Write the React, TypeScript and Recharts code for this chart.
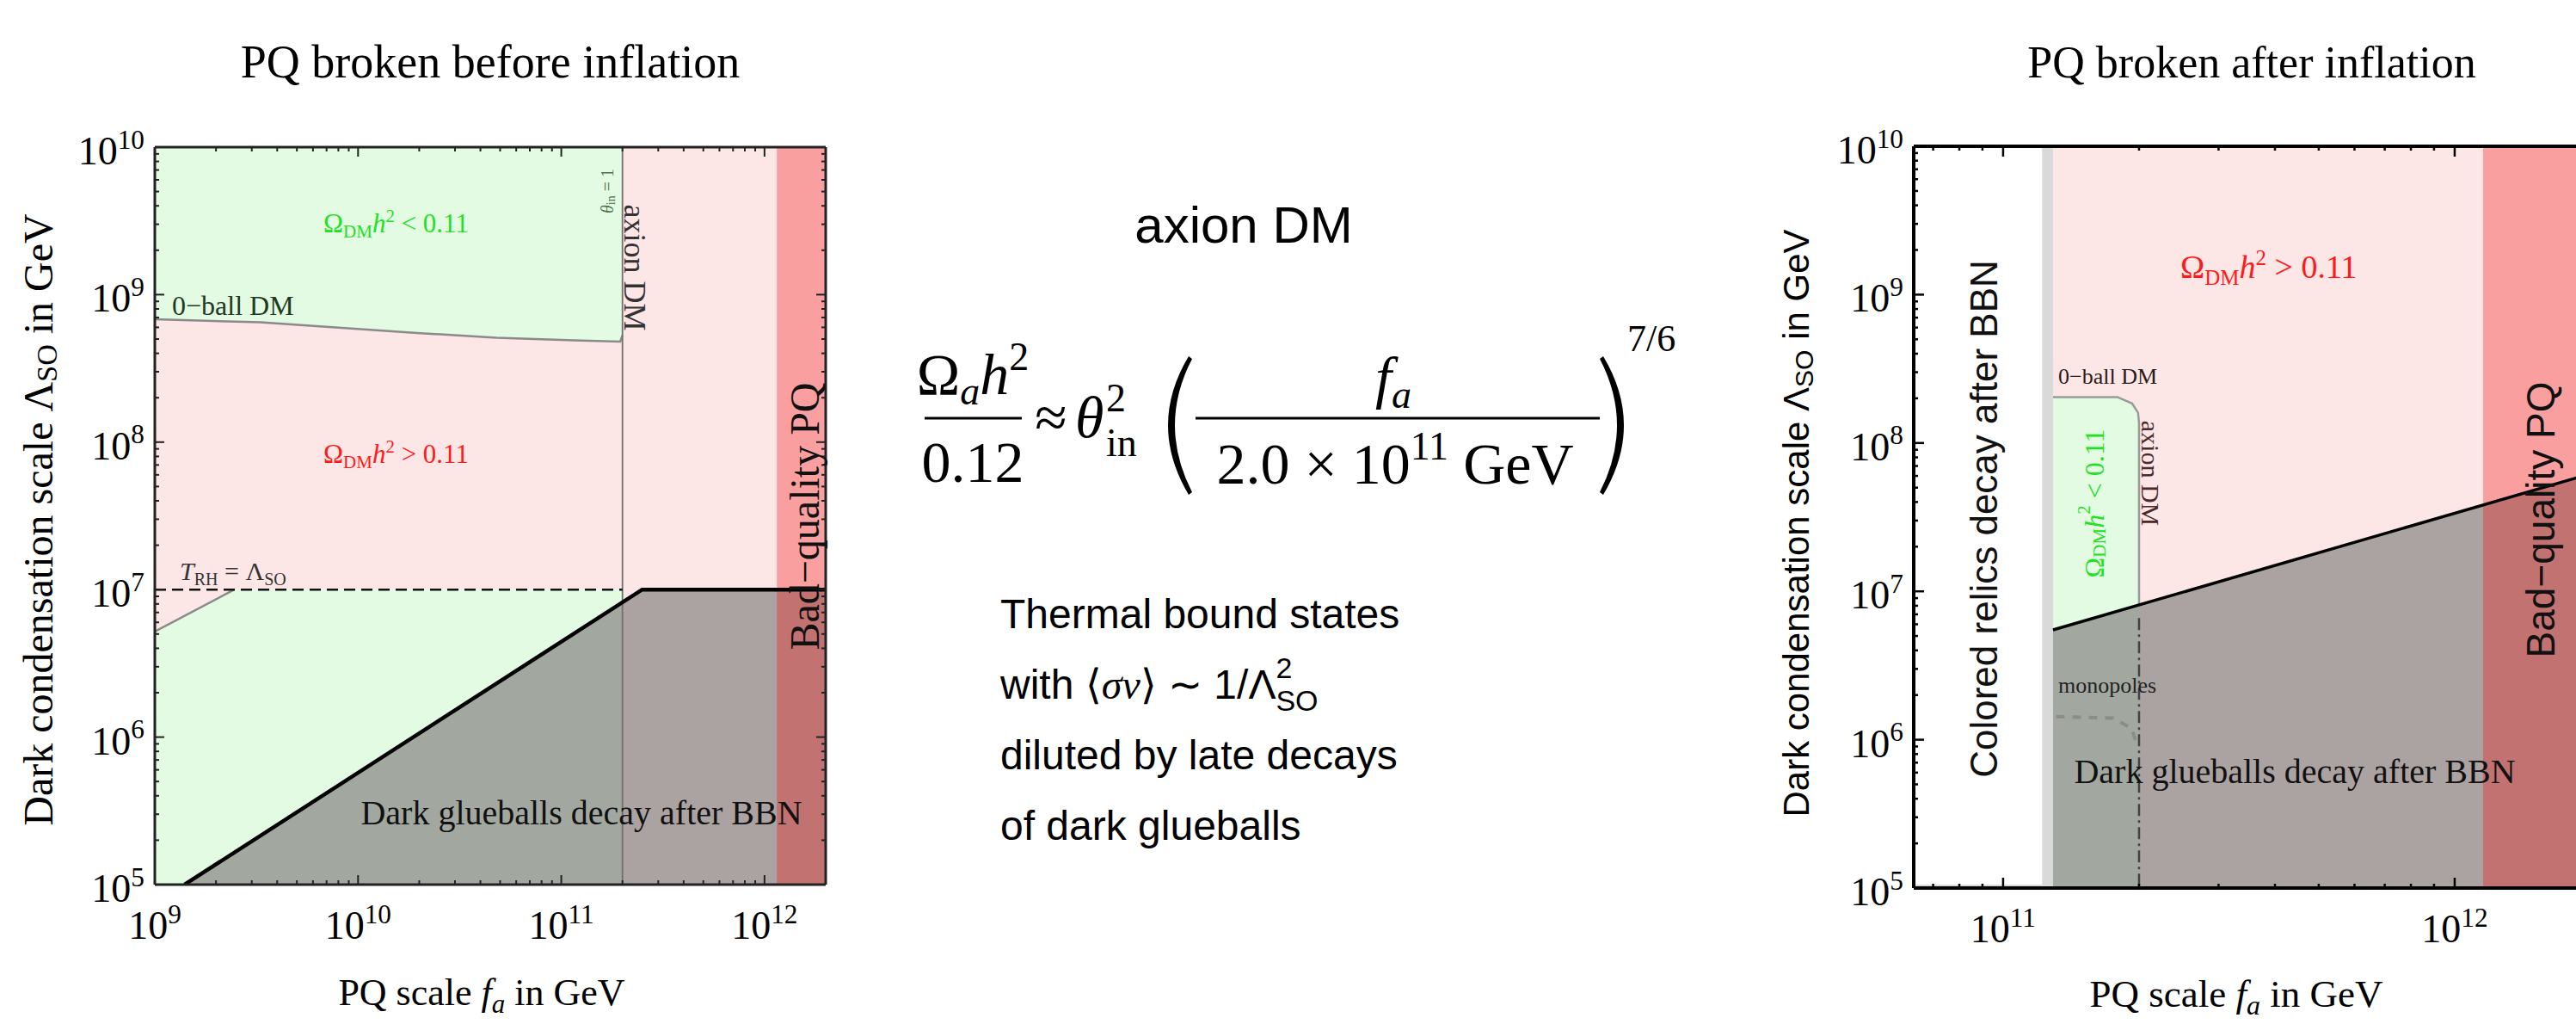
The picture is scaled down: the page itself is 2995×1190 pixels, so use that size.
import React from "react";
import { Area, ComposedChart, Line, XAxis, YAxis } from "recharts";

const SERIF = '"Liberation Serif", "Times New Roman", serif';
const SANS = '"Liberation Sans", Arial, sans-serif';

// ---------- shared axis data ----------
const yDomain = [1e5, 1e10];
const yDecades = [1e5, 1e6, 1e7, 1e8, 1e9, 1e10];
const minorSteps = [2, 3, 4, 5, 6, 7, 8, 9];

// ---------- left panel: PQ broken before inflation ----------
const leftXDomain = [1e9, 2e12];
const leftXDecades = [1e9, 1e10, 1e11, 1e12];

const leftPinkX = [1e9, 2e12];
const leftPinkLo = [1e5, 1e5];
const leftPinkHi = [1e10, 1e10];

// Q-ball DM contour, green region above it
const leftQballX = [1e9, 3.3e9, 1.95e10, 4.8e10, 1.15e11, 1.95e11, 2e11];
const leftQballY = [6.8e8, 6.5e8, 5.5e8, 5.1e8, 4.9e8, 4.8e8, 5.3e8];
const leftQballTop = [1e10, 1e10, 1e10, 1e10, 1e10, 1e10, 1e10];

// green region below T_RH = Lambda
const leftLowGreenX = [1e9, 2.46e9, 2e11];
const leftLowGreenLo = [1e5, 1e5, 1e5];
const leftLowGreenHi = [5.2e6, 1e7, 1e7];

// dark glueballs decay after BBN
const leftGlueX = [1.4e9, 2.5e11, 2e12];
const leftGlueLo = [1e5, 1e5, 1e5];
const leftGlueHi = [1e5, 1e7, 1e7];

// bad-quality PQ band
const leftBadX = [1.15e12, 2e12];
const leftBadLo = [1e5, 1e5];
const leftBadHi = [1e10, 1e10];

const leftAxionX = [2e11, 2e11];
const leftAxionY = [1e5, 1e10];
const leftTrhX = [1e9, 2e11];
const leftTrhY = [1e7, 1e7];
const leftRhEdgeX = [1e9, 2.46e9];
const leftRhEdgeY = [5.2e6, 1e7];

// ---------- right panel: PQ broken after inflation ----------
const rightXDomain = [6.34e10, 2e12];
const rightXDecades = [1e11, 1e12];

const rightStripX = [6.34e10, 1.22e11];
const rightStripLo = [1e5, 1e5];
const rightStripHi = [1.055e5, 1.055e5];

const rightRelicX = [1.22e11, 1.29e11];
const rightRelicLo = [1e5, 1e5];
const rightRelicHi = [1e10, 1e10];

const rightPinkX = [1.29e11, 2e12];
const rightPinkLo = [1e5, 1e5];
const rightPinkHi = [1e10, 1e10];

const rightBoxX = [1.29e11, 1.79e11, 1.93e11, 1.99e11, 2e11];
const rightBoxLo = [1e5, 1e5, 1e5, 1e5, 1e5];
const rightBoxHi = [2.04e8, 2.04e8, 1.85e8, 1.6e8, 1.37e8];

const rightGlueX = [1.29e11, 2e12];
const rightGlueLo = [1e5, 1e5];
const rightGlueHi = [5.5e6, 6.2e7];

const rightBadX = [1.156e12, 2e12];
const rightBadLo = [1e5, 1e5];
const rightBadHi = [1e10, 1e10];

const rightOutlineX = [1.29e11, 1.79e11, 1.93e11, 1.99e11, 2e11, 2e11];
const rightOutlineY = [2.04e8, 2.04e8, 1.85e8, 1.6e8, 1.37e8, 8.1e6];
const rightMonoVX = [2e11, 2e11];
const rightMonoVY = [6.6e6, 1e5];
const rightMonoX = [1.31e11, 1.75e11, 1.92e11, 1.99e11];
const rightMonoY = [1.43e6, 1.4e6, 1.2e6, 9e5];

// ---------- helpers ----------
const band = (xs: number[], lo: number[], hi: number[]) =>
  xs.map((x, i) => ({ x, y: [lo[i], hi[i]] }));
const pts = (xs: number[], ys: number[]) => xs.map((x, i) => ({ x, y: ys[i] }));

// decade ticks plus the 2..9 minor ticks that fall inside the domain
const withMinor = (decades: number[], lo: number, hi: number) => {
  const out: number[] = [];
  [decades[0] / 10, ...decades].forEach((d) => {
    out.push(d);
    minorSteps.forEach((m) => out.push(d * m));
  });
  return out.filter((v) => v >= lo * 0.999 && v <= hi * 1.001).sort((a, b) => a - b);
};

const isDecade = (v: number) => {
  const l = Math.log10(v);
  return Math.abs(l - Math.round(l)) < 1e-6;
};

const GREY = "rgb(136,133,133)";
const RED = "rgb(244,24,24)";
const PINK = "#fde6e6";
const GREEN = "#e2fbe2";

type Cfg = {
  plotW: number;
  plotH: number;
  major: number;
  minor: number;
  stroke: string;
  sw: number;
  font: number;
};

const XTick = (p: any, c: Cfg) => {
  const { x, y, payload } = p;
  const dec = isDecade(payload.value);
  const len = dec ? c.major : c.minor;
  const exp = Math.round(Math.log10(payload.value));
  return (
    <g>
      <line x1={x} x2={x} y1={y} y2={y - len} stroke={c.stroke} strokeWidth={c.sw} />
      <line x1={x} x2={x} y1={y - c.plotH} y2={y - c.plotH + len} stroke={c.stroke} strokeWidth={c.sw} />
      {dec && (
        <text x={x} y={y + 63} textAnchor="middle" fontFamily={SERIF} fontSize={c.font} fill="#000">
          10<tspan dy={-c.font * 0.4} fontSize={c.font * 0.68}>{exp}</tspan>
        </text>
      )}
    </g>
  );
};

const YTick = (p: any, c: Cfg) => {
  const { x, y, payload } = p;
  const dec = isDecade(payload.value);
  const len = dec ? c.major : c.minor;
  const exp = Math.round(Math.log10(payload.value));
  return (
    <g>
      <line x1={x} x2={x + len} y1={y} y2={y} stroke={c.stroke} strokeWidth={c.sw} />
      <line x1={x + c.plotW} x2={x + c.plotW - len} y1={y} y2={y} stroke={c.stroke} strokeWidth={c.sw} />
      {dec && (
        <text x={x - 12} y={y + 20} textAnchor="end" fontFamily={SERIF} fontSize={c.font} fill="#000">
          10<tspan dy={-c.font * 0.4} fontSize={c.font * 0.68}>{exp}</tspan>
        </text>
      )}
    </g>
  );
};

const fillArea = (key: string, data: any[], fill: string, opacity = 1) => (
  <Area
    key={key}
    data={data}
    dataKey="y"
    type="linear"
    fill={fill}
    fillOpacity={opacity}
    stroke="none"
    dot={false}
    activeDot={false}
    isAnimationActive={false}
  />
);

const strokeLine = (key: string, data: any[], stroke: string, width: number, dash?: string) => (
  <Line
    key={key}
    data={data}
    dataKey="y"
    type="linear"
    stroke={stroke}
    strokeWidth={width}
    strokeDasharray={dash}
    dot={false}
    activeDot={false}
    isAnimationActive={false}
  />
);

// four framed axes with inward ticks (Mathematica style frame)
const frameAxes = (xDomain: number[], xTicks: number[], yTicks: number[], cfg: Cfg, frameW: number) => {
  const line = { stroke: cfg.stroke, strokeWidth: frameW };
  return [
    <XAxis
      key="xb"
      dataKey="x"
      type="number"
      scale="log"
      domain={xDomain}
      allowDataOverflow
      ticks={xTicks}
      interval={0}
      height={60}
      tickSize={0}
      tickMargin={0}
      tickLine={false}
      axisLine={line}
      tick={(p: any) => XTick(p, cfg)}
    />,
    <XAxis
      key="xt"
      xAxisId="top"
      orientation="top"
      dataKey="x"
      type="number"
      scale="log"
      domain={xDomain}
      allowDataOverflow
      ticks={xTicks}
      height={1}
      tick={false}
      tickLine={false}
      axisLine={line}
    />,
    <YAxis
      key="yl"
      type="number"
      scale="log"
      domain={yDomain}
      allowDataOverflow
      ticks={yTicks}
      interval={0}
      width={80}
      tickSize={0}
      tickMargin={0}
      tickLine={false}
      axisLine={line}
      tick={(p: any) => YTick(p, cfg)}
    />,
    <YAxis
      key="yr"
      yAxisId="right"
      orientation="right"
      type="number"
      scale="log"
      domain={yDomain}
      allowDataOverflow
      ticks={yTicks}
      width={1}
      tick={false}
      tickLine={false}
      axisLine={line}
    />,
  ];
};

function LeftPanel() {
  const cfg: Cfg = { plotW: 780, plotH: 857, major: 11, minor: 5, stroke: "#222", sw: 2, font: 46 };
  const xTicks = withMinor(leftXDecades, leftXDomain[0], leftXDomain[1]);
  const yTicks = withMinor(yDecades, yDomain[0], yDomain[1]);
  return (
    <ComposedChart
      width={1000}
      height={1190}
      margin={{ top: 170, left: 100, right: 39, bottom: 102 }}
      style={{ position: "absolute", left: 0, top: 0 }}
    >
      {fillArea("pink", band(leftPinkX, leftPinkLo, leftPinkHi), PINK)}
      {fillArea("qball", band(leftQballX, leftQballY, leftQballTop), GREEN)}
      {fillArea("lowgreen", band(leftLowGreenX, leftLowGreenLo, leftLowGreenHi), GREEN)}
      {fillArea("glue", band(leftGlueX, leftGlueLo, leftGlueHi), GREY, 0.7)}
      {fillArea("bad", band(leftBadX, leftBadLo, leftBadHi), RED, 0.34)}
      {strokeLine("qballLine", pts(leftQballX, leftQballY), "#8a8a8a", 2.5)}
      {strokeLine("rhEdge", pts(leftRhEdgeX, leftRhEdgeY), "#8a8a8a", 2.5)}
      {strokeLine("axion", pts(leftAxionX, leftAxionY), "#6f6f6f", 1.8)}
      {strokeLine("trh", pts(leftTrhX, leftTrhY), "#111", 2.5, "13 7")}
      {strokeLine("glueLine", pts(leftGlueX, leftGlueHi), "#000", 4.5)}
      {frameAxes(leftXDomain, xTicks, yTicks, cfg, 3)}
    </ComposedChart>
  );
}

function RightPanel() {
  const cfg: Cfg = { plotW: 787, plotH: 862, major: 12, minor: 5, stroke: "#000", sw: 2.5, font: 46 };
  const xTicks = withMinor(rightXDecades, rightXDomain[0], rightXDomain[1]);
  const yTicks = withMinor(yDecades, yDomain[0], yDomain[1]);
  return (
    <ComposedChart
      width={1000}
      height={1190}
      margin={{ top: 169, left: 45, right: 87, bottom: 98 }}
      style={{ position: "absolute", left: 2100, top: 0 }}
    >
      {fillArea("strip", band(rightStripX, rightStripLo, rightStripHi), "#d9d9d9")}
      {fillArea("relic", band(rightRelicX, rightRelicLo, rightRelicHi), "#d9d9d9")}
      {fillArea("pink", band(rightPinkX, rightPinkLo, rightPinkHi), PINK)}
      {fillArea("box", band(rightBoxX, rightBoxLo, rightBoxHi), GREEN)}
      {fillArea("glue", band(rightGlueX, rightGlueLo, rightGlueHi), GREY, 0.7)}
      {fillArea("bad", band(rightBadX, rightBadLo, rightBadHi), RED, 0.34)}
      {strokeLine("outline", pts(rightOutlineX, rightOutlineY), "#9a9a9a", 2.5)}
      {strokeLine("monoV", pts(rightMonoVX, rightMonoVY), "#444", 2.5, "14 5 3 5")}
      {strokeLine("mono", pts(rightMonoX, rightMonoY), "#8c8c8c", 4, "10 9")}
      {strokeLine("glueLine", pts(rightGlueX, rightGlueHi), "#000", 3.5)}
      {frameAxes(rightXDomain, xTicks, yTicks, cfg, 4)}
    </ComposedChart>
  );
}

const Rot = ({ cx, cy, angle, children, ...rest }: any) => (
  <text
    transform={`translate(${cx},${cy}) rotate(${angle})`}
    textAnchor="middle"
    dominantBaseline="central"
    {...rest}
  >
    {children}
  </text>
);

function Annotations() {
  return (
    <svg
      width={2995}
      height={1190}
      style={{ position: "absolute", left: 0, top: 0, pointerEvents: "none" }}
    >
      {/* titles */}
      <text x={570} y={90} textAnchor="middle" fontFamily={SERIF} fontSize={54}>
        PQ broken before inflation
      </text>
      <text x={2618} y={90} textAnchor="middle" fontFamily={SERIF} fontSize={52}>
        PQ broken after inflation
      </text>

      {/* left axis titles */}
      <Rot cx={44} cy={604} angle={-90} fontFamily={SERIF} fontSize={48}>
        Dark condensation scale Λ<tspan dy={10} fontSize={34}>SO</tspan>
        <tspan dy={-10}> in GeV</tspan>
      </Rot>
      <text x={560} y={1168} textAnchor="middle" fontFamily={SERIF} fontSize={44}>
        PQ scale <tspan fontStyle="italic">f</tspan>
        <tspan dy={9} fontSize={31} fontStyle="italic">a</tspan>
        <tspan dy={-9}> in GeV</tspan>
      </text>

      {/* left region labels */}
      <text x={376} y={270} fontFamily={SERIF} fontSize={31} fill="#22e022">
        Ω<tspan dy={6} fontSize={21}>DM</tspan>
        <tspan dy={-6} fontStyle="italic">h</tspan>
        <tspan dy={-12} fontSize={21}>2</tspan>
        <tspan dy={12}> &lt; 0.11</tspan>
      </text>
      <text x={376} y={538} fontFamily={SERIF} fontSize={31} fill="#ff1a1a">
        Ω<tspan dy={6} fontSize={21}>DM</tspan>
        <tspan dy={-6} fontStyle="italic">h</tspan>
        <tspan dy={-12} fontSize={21}>2</tspan>
        <tspan dy={12}> &gt; 0.11</tspan>
      </text>
      <Rot cx={706} cy={222} angle={-90} fontFamily={SERIF} fontSize={20} fill="#4f6f4f">
        <tspan fontStyle="italic">θ</tspan>
        <tspan dy={4} fontSize={14}>in</tspan>
        <tspan dy={-4}> = 1</tspan>
      </Rot>
      <Rot cx={738} cy={311} angle={90} fontFamily={SERIF} fontSize={36} fill="#333">
        axion DM
      </Rot>
      <text x={200} y={366} fontFamily={SERIF} fontSize={32} fill="#1f3a1f">
        0−ball DM
      </text>
      <text x={209} y={674} fontFamily={SERIF} fontSize={30} fill="#333">
        <tspan fontStyle="italic">T</tspan>
        <tspan dy={6} fontSize={20}>RH</tspan>
        <tspan dy={-6}> = Λ</tspan>
        <tspan dy={6} fontSize={20}>SO</tspan>
      </text>
      <text x={676} y={958} textAnchor="middle" fontFamily={SERIF} fontSize={40} fill="#111">
        Dark glueballs decay after BBN
      </text>
      <Rot cx={935} cy={600} angle={-90} fontFamily={SERIF} fontSize={48} fill="#111">
        Bad−quality PQ
      </Rot>

      {/* middle block */}
      <text x={1446} y={282} textAnchor="middle" fontFamily={SANS} fontSize={60}>
        axion DM
      </text>
      <g fontFamily={SERIF} fontSize={68} fill="#000">
        <text x={1131} y={458} textAnchor="middle">
          Ω<tspan dy={12} fontSize={46} fontStyle="italic">a</tspan>
          <tspan dy={-12} fontStyle="italic">h</tspan>
          <tspan dy={-28} fontSize={46}>2</tspan>
        </text>
        <line x1={1075} x2={1188} y1={486} y2={486} stroke="#000" strokeWidth={3} />
        <text x={1131} y={560} textAnchor="middle">0.12</text>
        <text x={1222} y={508} textAnchor="middle">≈</text>
        <text x={1250} y={508} fontStyle="italic">θ</text>
        <text x={1286} y={478} fontSize={46}>2</text>
        <text x={1286} y={530} fontSize={46}>in</text>
        <path d="M1382,414 Q1334,494 1382,575 L1386,572 Q1346,494 1386,417 Z" fill="#000" />
        <text x={1620} y={462} textAnchor="middle" fontStyle="italic">
          f<tspan dy={12} fontSize={46}>a</tspan>
        </text>
        <line x1={1390} x2={1860} y1={486} y2={486} stroke="#000" strokeWidth={3} />
        <text x={1622} y={562} textAnchor="middle">
          2.0 × 10<tspan dy={-28} fontSize={46}>11</tspan>
          <tspan dy={28}> GeV</tspan>
        </text>
        <path d="M1864,414 Q1912,494 1864,575 L1860,572 Q1900,494 1860,417 Z" fill="#000" />
        <text x={1892} y={408} fontSize={44}>7/6</text>
      </g>
      <g fontFamily={SANS} fontSize={48} fill="#000">
        <text x={1163} y={730}>Thermal bound states</text>
        <text x={1163} y={812}>
          with ⟨<tspan fontFamily={SERIF} fontStyle="italic">σv</tspan>⟩ ∼ 1/Λ
          <tspan dy={-24} fontSize={34}>2</tspan>
          <tspan dx={-19} dy={38} fontSize={34}>SO</tspan>
        </text>
        <text x={1163} y={894}>diluted by late decays</text>
        <text x={1163} y={976}>of dark glueballs</text>
      </g>

      {/* right axis titles */}
      <Rot cx={2088} cy={608} angle={-90} fontFamily={SANS} fontSize={42}>
        Dark condensation scale Λ<tspan dy={9} fontSize={30}>SO</tspan>
        <tspan dy={-9}> in GeV</tspan>
      </Rot>
      <text x={2600} y={1170} textAnchor="middle" fontFamily={SERIF} fontSize={45}>
        PQ scale <tspan fontStyle="italic">f</tspan>
        <tspan dy={9} fontSize={32} fontStyle="italic">a</tspan>
        <tspan dy={-9}> in GeV</tspan>
      </text>

      {/* right region labels */}
      <text x={2535} y={323} fontFamily={SERIF} fontSize={38} fill="#ff1a1a">
        Ω<tspan dy={8} fontSize={25}>DM</tspan>
        <tspan dy={-8} fontStyle="italic">h</tspan>
        <tspan dy={-15} fontSize={25}>2</tspan>
        <tspan dy={15}> &gt; 0.11</tspan>
      </text>
      <text x={2393} y={446} fontFamily={SERIF} fontSize={26} fill="#2a1a1a">
        0−ball DM
      </text>
      <Rot cx={2435} cy={585} angle={-90} fontFamily={SERIF} fontSize={32} fill="#22e022">
        Ω<tspan dy={6} fontSize={21}>DM</tspan>
        <tspan dy={-6} fontStyle="italic">h</tspan>
        <tspan dy={-12} fontSize={21}>2</tspan>
        <tspan dy={12}> &lt; 0.11</tspan>
      </Rot>
      <Rot cx={2500} cy={550} angle={90} fontFamily={SERIF} fontSize={30} fill="#4a2a2a">
        axion DM
      </Rot>
      <text x={2393} y={805} fontFamily={SERIF} fontSize={26} fill="#222">
        monopoles
      </text>
      <text x={2668} y={910} textAnchor="middle" fontFamily={SERIF} fontSize={40} fill="#111">
        Dark glueballs decay after BBN
      </text>
      <Rot cx={2306} cy={603} angle={-90} fontFamily={SANS} fontSize={44} fill="#111">
        Colored relics decay after BBN
      </Rot>
      <Rot cx={2954} cy={604} angle={-90} fontFamily={SANS} fontSize={46} fill="#111">
        Bad−quality PQ
      </Rot>
    </svg>
  );
}

export default function App() {
  return (
    <div
      style={{
        position: "absolute",
        left: 0,
        top: 0,
        width: 2995,
        height: 1190,
        overflow: "hidden",
        background: "#fff",
      }}
    >
      <LeftPanel />
      <RightPanel />
      <Annotations />
    </div>
  );
}
